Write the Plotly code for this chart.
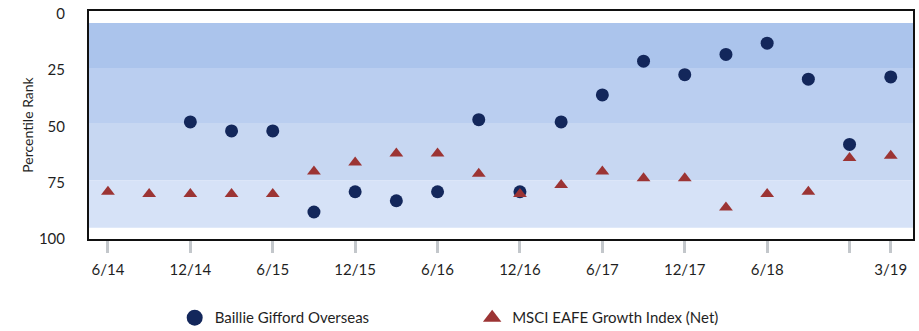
import plotly.graph_objects as go

quarters = ['6/14', '9/14', '12/14', '3/15', '6/15', '9/15', '12/15', '3/16',
            '6/16', '9/16', '12/16', '3/17', '6/17', '9/17', '12/17', '3/18',
            '6/18', '9/18', '12/18', '3/19']

baillie = [None, None, 48, 52, 52, 88, 79, 83, 79, 47, 79, 48, 36, 21, 27, 18,
           13, 29, 58, 28]
msci = [79, 80, 80, 80, 80, 70, 66, 62, 62, 71, 80, 76, 70, 73, 73, 86, 80, 79,
        64, 63]

tick_quarters = ['6/14', '12/14', '6/15', '12/15', '6/16', '12/16', '6/17',
                 '12/17', '6/18', '12/18', '3/19']
tick_labels = ['6/14', '12/14', '6/15', '12/15', '6/16', '12/16', '6/17',
               '12/17', '6/18', '', '3/19']

# percentile bands (edges) and fills, darkest at top
band_edges = [4, 24, 48.5, 74, 95]
band_colors = ['#ABC4EC', '#BACEF0', '#C7D7F2', '#D6E2F7']

FONT = 'Lato'
TICK_GREY = '#C3C7CB'
NAVY = '#13275B'
RED = '#9C3434'

fig = go.Figure()

fig.add_trace(go.Scatter(
    x=quarters, y=baillie, mode='markers', showlegend=False,
    marker=dict(symbol='circle', size=13, color=NAVY)))
fig.add_trace(go.Scatter(
    x=quarters, y=msci, mode='markers', showlegend=False,
    marker=dict(symbol='triangle-up', size=12, color=RED)))

# legend entries (bigger symbols than in the plot)
fig.add_trace(go.Scatter(
    x=[None], y=[None], mode='markers', name='Baillie Gifford Overseas',
    marker=dict(symbol='circle', size=16, color=NAVY), legend='legend'))
fig.add_trace(go.Scatter(
    x=[None], y=[None], mode='markers', name='MSCI EAFE Growth Index (Net)',
    marker=dict(symbol='triangle-up', size=16, color=RED), legend='legend2'))

for i in range(len(band_colors)):
    fig.add_shape(type='rect', xref='paper', x0=0, x1=1, yref='y',
                  y0=band_edges[i], y1=band_edges[i + 1],
                  fillcolor=band_colors[i], line=dict(width=0), layer='below')

fig.update_layout(
    width=919, height=331,
    margin=dict(l=89, r=6, t=11, b=92, autoexpand=False),
    showlegend=True,
    paper_bgcolor='white', plot_bgcolor='white',
    font=dict(family=FONT, size=15, color='#1F1F1F'),
    xaxis=dict(
        type='category', range=[-0.46, 19.54],
        tickmode='array', tickvals=tick_quarters, ticktext=tick_labels,
        ticks='outside', ticklen=12, tickwidth=3, tickcolor=TICK_GREY,
        showline=True, linecolor='#111111', linewidth=2, mirror=True,
        showgrid=False, zeroline=False, automargin=False,
        tickfont=dict(size=15), ticklabelstandoff=4),
    yaxis=dict(
        range=[100, -1.3], tickvals=[0, 25, 50, 75, 100],
        ticks='', showline=True, linecolor='#111111', linewidth=2,
        mirror=True, showgrid=False, zeroline=False, automargin=False,
        tickfont=dict(size=15), ticklabelstandoff=19,
        title=dict(text='Percentile Rank', font=dict(size=14), standoff=2)),
    yaxis2=dict(
        range=[100, -1.3], overlaying='y', side='left', anchor='x',
        tickvals=[25, 50, 75], showticklabels=False,
        ticks='outside', ticklen=12, tickwidth=3, tickcolor=TICK_GREY,
        showline=False, showgrid=False, zeroline=False),
    legend=dict(orientation='h', x=0.104, y=-0.346, xanchor='left',
                yanchor='middle', font=dict(size=15)),
    legend2=dict(orientation='h', x=0.465, y=-0.346, xanchor='left',
                 yanchor='middle', font=dict(size=15)),
)

fig.write_html('out.html', config={'displayModeBar': False},
               post_script="document.body.style.margin='0';")
